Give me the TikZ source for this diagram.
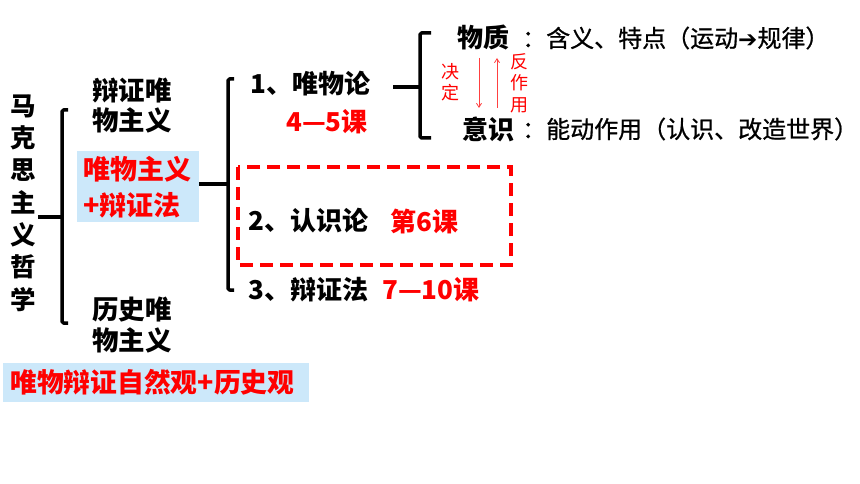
\documentclass[tikz,border=0pt]{standalone}
\usepackage{fontspec}
\setmainfont{Noto Sans CJK SC}
\newfontfamily\medfont{Noto Sans CJK SC}[FakeBold=0.8]
\newfontfamily\symfont{DejaVu Sans}
\definecolor{boxblue}{HTML}{CCE8FA}
\definecolor{myred}{HTML}{FF0000}
\begin{document}
\begin{tikzpicture}[x=1pt,y=-1pt,
  brk/.style={line width=3.5pt, line join=round, rounded corners=1.5pt},
  bt/.style={font=\bfseries\fontsize{26}{30}\selectfont, inner sep=0pt},
  rt/.style={font=\bfseries\fontsize{26}{30}\selectfont, inner sep=0pt, text=myred},
  st/.style={font=\medfont\fontsize{24}{30}\selectfont, inner sep=0pt},
  sm/.style={font=\fontsize{18}{21.5}\selectfont, inner sep=0pt, text=myred, align=center},
  thinarrow/.style={draw=myred!75, line width=0.8pt, -{Straight Barb[length=4pt,width=5pt]}},
  dashbox/.style={draw=myred, line width=4.5pt, dash pattern=on 13pt off 7pt}
]
\useasboundingbox (0,0) rectangle (860,484);
\usetikzlibrary{arrows.meta}

% title
\node[bt, align=center, font=\bfseries\fontsize{25.5}{32.3}\selectfont] (title) at (23,203) {马\\克\\思\\主\\义\\哲\\学};

% level 1 bracket
\coordinate (b1s) at (38,217);
\coordinate (b1m) at (62,217);
\coordinate (b1t) at (68,110);
\coordinate (b1b) at (68,323);
\draw[brk] (b1s) -- (b1m);
\draw[brk] (b1t) -- (62,110) -- (62,323) -- (b1b);

\node[bt, align=center, font=\bfseries\fontsize{26.5}{30}\selectfont] (bz) at (132,106) {辩证唯\\物主义};
\node[rt, fill=boxblue, anchor=north west, align=left, text width=110pt,
      minimum height=71pt, inner xsep=6pt, inner ysep=0pt,
      font=\bfseries\fontsize{27}{36}\selectfont] (wb) at (77,151) {唯物主义\\+辩证法};
\node[bt, align=center, font=\bfseries\fontsize{26.5}{31}\selectfont] (ls) at (132,325) {历史唯\\物主义};
\node[rt, fill=boxblue, anchor=north west, minimum width=306pt, minimum height=39pt,
      inner xsep=7pt, text width=292pt, align=left,
      font=\bfseries\fontsize{26.8}{30}\selectfont] (zr) at (3,363) {唯物辩证自然观+历史观};

% level 2 bracket
\coordinate (b2m) at (228,184);
\draw[brk] (wb.east |- b2m) -- (b2m);
\draw[brk] (234,79) -- (228,79) -- (228,290) -- (234,290);

\node[bt, anchor=west] (wwl) at (250,84) {1、唯物论};
\node[rt, anchor=west] (k45) at (286,122) {4—5课};
\node[bt, anchor=west] (rsl) at (248,221) {2、认识论};
\node[rt, anchor=west] (k6) at (390,221) {第6课};
\node[bt, anchor=west] (bzf) at (248,290) {3、辩证法};
\node[rt, anchor=west] (k710) at (382,290) {7—10课};
\draw[dashbox] (238,167) rectangle (511,265);

% level 3 bracket
\coordinate (b3m) at (420,87);
\draw[brk] (393,87) -- (b3m);
\draw[brk] (431,33) -- (420,33) -- (420,138) -- (431,138);

\node[bt, anchor=west] (wz) at (457,38) {物质};
\node[st, anchor=west] (wzt) at (522,38) {：含义、特点（运动{\symfont\bfseries\fontsize{23}{24}\selectfont ➔}规律）};
\node[bt, anchor=west] (ys) at (462,129) {意识};
\node[st, anchor=west] (yst) at (522,129) {：能动作用（认识、改造世界）};

\node[sm] (jd) at (450,82) {决\\定};
\node[sm] (fzy) at (519,83) {反\\作\\用};
\coordinate (a1) at (479,58);
\coordinate (a2) at (479,108);
\coordinate (a3) at (497,108);
\coordinate (a4) at (497,58);
\draw[thinarrow] (a1) -- (a2);
\draw[thinarrow] (a3) -- (a4);
\end{tikzpicture}
\end{document}
